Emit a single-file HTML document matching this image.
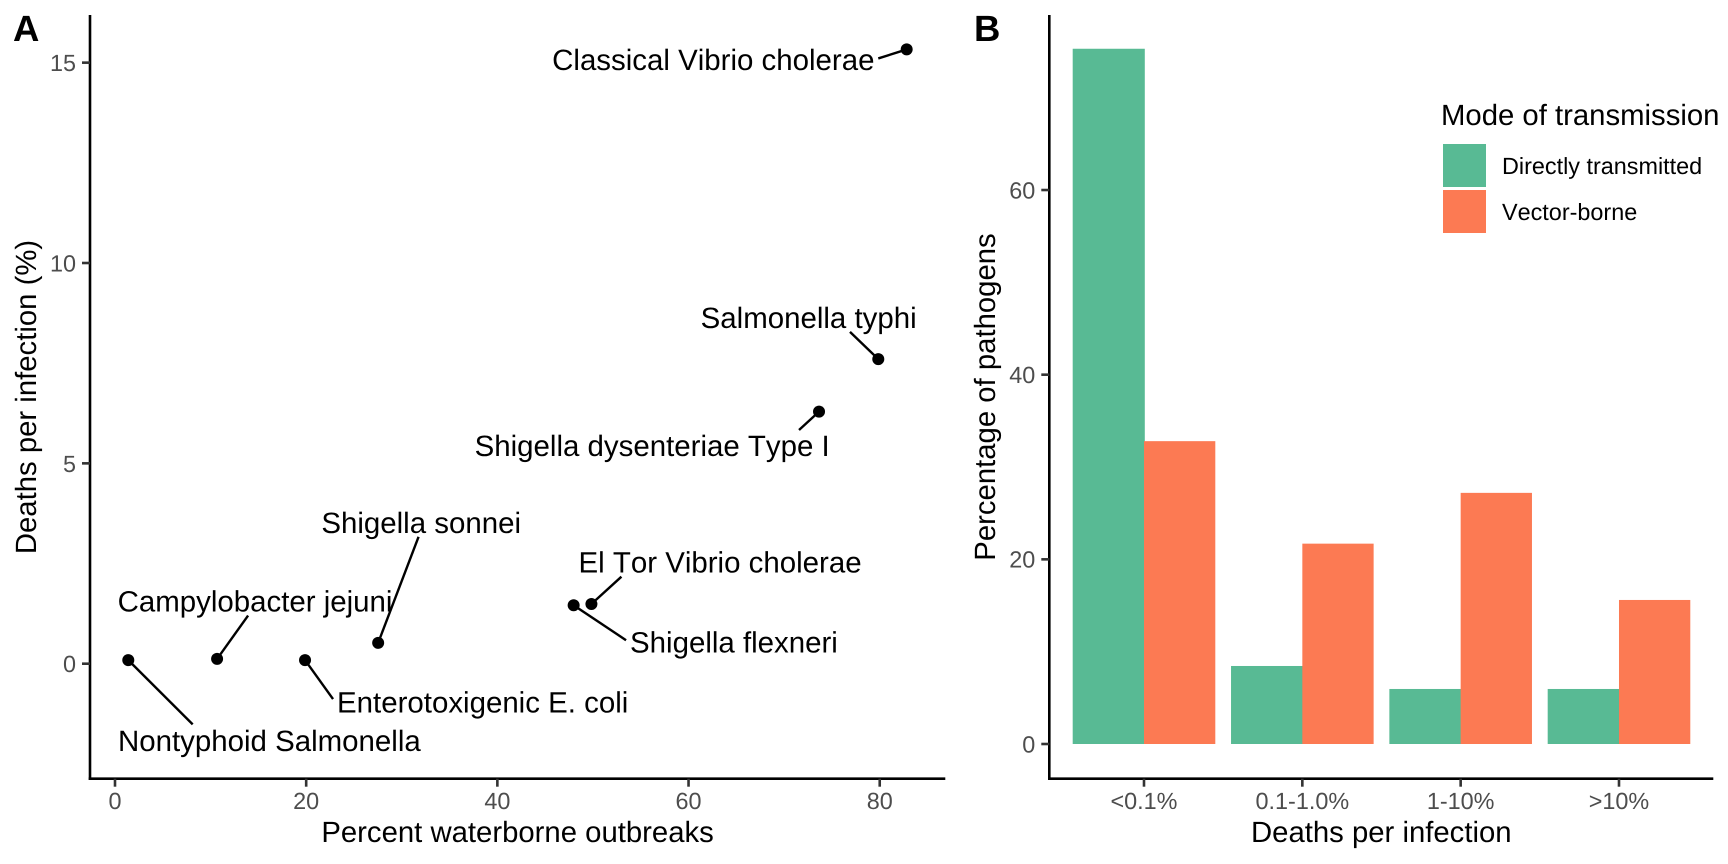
<!DOCTYPE html>
<html lang="en">
<head>
<meta charset="utf-8">
<title>Waterborne outbreaks and deaths per infection</title>
<style>
html,body{margin:0;padding:0;background:#fff;}
body{width:1728px;height:864px;overflow:hidden;}
svg{display:block;}
text{font-family:"Liberation Sans",Arial,sans-serif;text-rendering:geometricPrecision;font-kerning:none;}
.tick{font-size:23.4px;fill:#4d4d4d;}
.title{font-size:29.3px;fill:#000;}
.lab{font-size:29.45px;fill:#000;}
.tag{font-size:36.5px;font-weight:bold;fill:#000;}
.leg{font-size:23.4px;fill:#000;}
</style>
</head>
<body>
<svg id="chart" width="1728" height="864" viewBox="0 0 1728 864" xmlns="http://www.w3.org/2000/svg">
  <rect x="0" y="0" width="1728" height="864" fill="#fff"/>
  <text class="tag" x="13" y="41">A</text>
  <text class="tag" x="974" y="41">B</text>
  <text class="title" x="517.6" y="842" text-anchor="middle">Percent waterborne outbreaks</text>
  <text class="title" transform="translate(36 397) rotate(-90)" text-anchor="middle">Deaths per infection (%)</text>
  <text class="title" x="1381.3" y="842" text-anchor="middle">Deaths per infection</text>
  <text class="title" transform="translate(995 397) rotate(-90)" text-anchor="middle">Percentage of pathogens</text>
  <g id="panelA"></g>
  <g id="panelB"></g>
  <g>
    <text class="title" x="1441" y="125">Mode of transmission</text>
    <rect x="1443" y="144" width="43" height="43" fill="#58BA94"/>
    <text class="leg" x="1502" y="174">Directly transmitted</text>
    <rect x="1443" y="190" width="43" height="43" fill="#FC7A53"/>
    <text class="leg" x="1502" y="220">Vector-borne</text>
  </g>
</svg>
<script>
// Panel A data
const pathogens = ["Classical Vibrio cholerae","Salmonella typhi","Shigella dysenteriae Type I","Shigella sonnei","El Tor Vibrio cholerae","Shigella flexneri","Enterotoxigenic E. coli","Campylobacter jejuni","Nontyphoid Salmonella"];
const waterbornePercent = [82.82,79.85,73.65,27.53,49.84,47.98,19.88,10.68,1.39];
const deathsPercent = [15.33,7.6,6.29,0.52,1.49,1.46,0.09,0.12,0.09];
const xTicksA = [0,20,40,60,80];
const yTicksA = [0,5,10,15];

// Panel B data
const severityBins = ["<0.1%","0.1-1.0%","1-10%",">10%"];
const directlyTransmitted = [75.3,8.45,5.96,5.96];
const vectorBorne = [32.8,21.7,27.2,15.6];
const yTicksB = [0,20,40,60];

// Label placement relative to each point (not data)
const repelLayout = {
  "Classical Vibrio cholerae":{dx:-32.2,dy:20.7,anchor:"end",sx:-28.4,sy:9},
  "Salmonella typhi":{dx:-177.6,dy:-31.3,anchor:"start",sx:-28.3,sy:-27.3},
  "Shigella dysenteriae Type I":{dx:10.7,dy:44.3,anchor:"end",sx:-20,sy:18.3},
  "Shigella sonnei":{dx:-56.8,dy:-110,anchor:"start",sx:40.4,sy:-106},
  "El Tor Vibrio cholerae":{dx:-12.9,dy:-31.3,anchor:"start",sx:30,sy:-27.3},
  "Shigella flexneri":{dx:56.4,dy:47.3,anchor:"start",sx:52.4,sy:35},
  "Enterotoxigenic E. coli":{dx:32,dy:52.3,anchor:"start",sx:28,sy:39},
  "Campylobacter jejuni":{dx:-99.5,dy:-47.3,anchor:"start",sx:31,sy:-43.3},
  "Nontyphoid Salmonella":{dx:-10.3,dy:90.7,anchor:"start",sx:64.4,sy:64.3}
};

const NS = "http://www.w3.org/2000/svg";
const AXIS_TOP = 15, AXIS_BOTTOM = 778.7;
const xA = v => 115 + v * 9.559;
const yA = v => 663.7 - v * 40.07;
const AX_LEFT = 90, AX_RIGHT = 945.3;
const yB = v => 744 - v * 9.233;
const BX_LEFT = 1049.3, BX_RIGHT = 1713.3;
const bandB = i => 1144 + i * 158.33;
const BAR_W = 71.3;
const SEAM_OVERLAP = 0.8;

function make(parent, tag, attrs, text) {
  const el = document.createElementNS(NS, tag);
  for (const k in attrs) el.setAttribute(k, attrs[k]);
  if (text !== undefined) el.textContent = text;
  parent.appendChild(el);
  return el;
}
function slug(s) { return s.toLowerCase().replace(/[^a-z0-9]+/g, '-').replace(/^-|-$/g, ''); }

function drawAxes(g, prefix, left, right, xItems, yItems, yFn) {
  const yLine = make(g, 'line', {x1:left,y1:AXIS_TOP,x2:left,y2:AXIS_BOTTOM+1.3,stroke:'#000','stroke-width':2.6});
  
  
  const xLine = make(g, 'line', {x1:left-1.3,y1:AXIS_BOTTOM,x2:right,y2:AXIS_BOTTOM,stroke:'#000','stroke-width':2.6});
  
  
  yItems.forEach(v => {
    const t = make(g, 'line', {x1:left-8,y1:yFn(v),x2:left,y2:yFn(v),stroke:'#333','stroke-width':2.6});
    
    
    const l = make(g, 'text', {class:'tick',x:left-14,y:yFn(v)+8.4,'text-anchor':'end'}, String(v));
    
    
  });
  xItems.forEach(it => {
    const t = make(g, 'line', {x1:it.x,y1:AXIS_BOTTOM,x2:it.x,y2:AXIS_BOTTOM+8,stroke:'#333','stroke-width':2.6});
    
    
    const l = make(g, 'text', {class:'tick',x:it.x,y:809,'text-anchor':'middle'}, it.label);
    
    
  });
}

// Panel A
const panelA = document.getElementById('panelA');
drawAxes(panelA, 'panel-a', AX_LEFT, AX_RIGHT, xTicksA.map(v => ({x:xA(v),label:String(v)})), yTicksA, yA);
pathogens.forEach((name, i) => {
  const px = xA(waterbornePercent[i]), py = yA(deathsPercent[i]);
  const r = repelLayout[name];
  const seg = make(panelA, 'line', {x1:px,y1:py,x2:px+r.sx,y2:py+r.sy,stroke:'#000','stroke-width':2.4});
  
  
  const dot = make(panelA, 'circle', {cx:px,cy:py,r:6,fill:'#000'});
  
  
  const lab = make(panelA, 'text', {class:'lab',x:px+r.dx,y:py+r.dy,'text-anchor':r.anchor}, name);
  
  
});

// Panel B
const panelB = document.getElementById('panelB');
severityBins.forEach((bin, i) => {
  const c = bandB(i);
  const g = make(panelB, 'rect', {x:c-BAR_W,y:yB(directlyTransmitted[i]),width:BAR_W+SEAM_OVERLAP,height:yB(0)-yB(directlyTransmitted[i]),fill:'#58BA94'});
  
  
  const o = make(panelB, 'rect', {x:c,y:yB(vectorBorne[i]),width:BAR_W,height:yB(0)-yB(vectorBorne[i]),fill:'#FC7A53'});
  
  
});
drawAxes(panelB, 'panel-b', BX_LEFT, BX_RIGHT, severityBins.map((b, i) => ({x:bandB(i),label:b})), yTicksB, yB);
</script>
</body>
</html>
